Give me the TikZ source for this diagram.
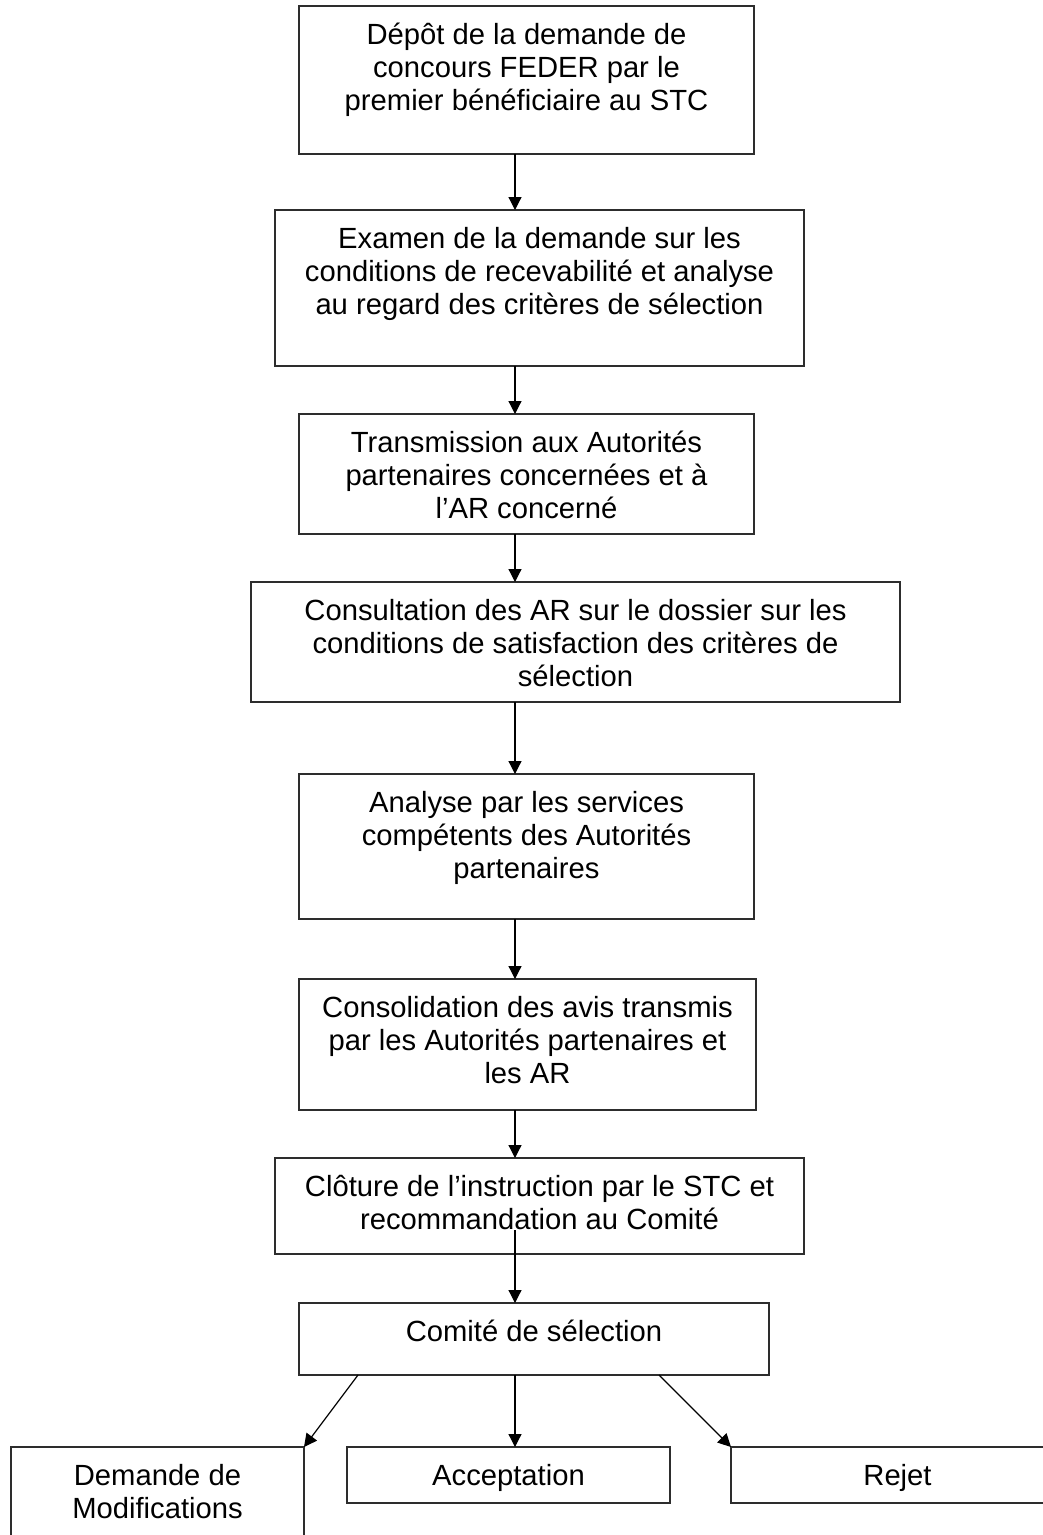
\documentclass[tikz,border=0pt]{standalone}
\usepackage{fontspec}
\setmainfont{Liberation Sans}
\usetikzlibrary{arrows.meta}
\definecolor{boxline}{RGB}{45,45,45}
\newcommand{\boxtext}[3]{\parbox[t][#2pt][t]{#1pt}{\centering\rule{0pt}{38pt}#3}}
\begin{document}
\begin{tikzpicture}[x=1pt,y=-1pt,
  flowbox/.style={draw=boxline,line width=1.3pt,inner sep=0pt,outer sep=0pt,anchor=north west,
    font=\fontsize{29.2}{33.3}\selectfont},
  arr/.style={draw=black,line width=1.2pt,-{Triangle[length=13pt,width=13pt]}}]
\useasboundingbox (0,0) rectangle (1043,1535);
\clip (0,0) rectangle (1043,1535);
\fill[white] (0,0) rectangle (1043,1535);

\node[flowbox] (b1) at (299,6) {\boxtext{455}{148}{Dépôt de la demande de\\concours FEDER par le\\premier bénéficiaire au STC}};
\node[flowbox] (b2) at (275,210) {\boxtext{529}{156}{Examen de la demande sur les\\conditions de recevabilité et analyse\\au regard des critères de sélection}};
\node[flowbox] (b3) at (299,414) {\boxtext{455}{120}{Transmission aux Autorités\\partenaires concernées et à\\l’AR concerné}};
\node[flowbox] (b4) at (251,582) {\boxtext{649}{120}{Consultation des AR sur le dossier sur les\\conditions de satisfaction des critères de\\sélection}};
\node[flowbox] (b5) at (299,774) {\boxtext{455}{145}{Analyse par les services\\compétents des Autorités\\partenaires}};
\node[flowbox] (b6) at (299,979) {\boxtext{457}{131}{Consolidation des avis transmis\\par les Autorités partenaires et\\les AR}};
\node[flowbox] (b7) at (275,1158) {\boxtext{529}{96}{Clôture de l’instruction par le STC et\\recommandation au Comité}};
\node[flowbox] (b8) at (299,1303) {\boxtext{470}{72}{Comité de sélection}};
\node[flowbox] (mod) at (11,1447) {\boxtext{293}{113}{Demande de\\Modifications}};
\node[flowbox] (acc) at (347,1447) {\boxtext{323}{56}{Acceptation}};
\node[flowbox] (rej) at (731,1447) {\boxtext{333}{56}{Rejet}};

\coordinate (ax) at (515,0);
\coordinate (dl) at (358,0);
\coordinate (dr) at (659,0);
\coordinate (c7) at (515,1230);

\draw[arr] (b1.south -| ax) -- (b2.north -| ax);
\draw[arr] (b2.south -| ax) -- (b3.north -| ax);
\draw[arr] (b3.south -| ax) -- (b4.north -| ax);
\draw[arr] (b4.south -| ax) -- (b5.north -| ax);
\draw[arr] (b5.south -| ax) -- (b6.north -| ax);
\draw[arr] (b6.south -| ax) -- (b7.north -| ax);
\draw[arr] (c7) -- (b8.north -| ax);
\draw[arr] (b8.south -| dl) -- (mod.north east);
\draw[arr] (b8.south -| ax) -- (acc.north -| ax);
\draw[arr] (b8.south -| dr) -- (rej.north west);
\end{tikzpicture}
\end{document}
